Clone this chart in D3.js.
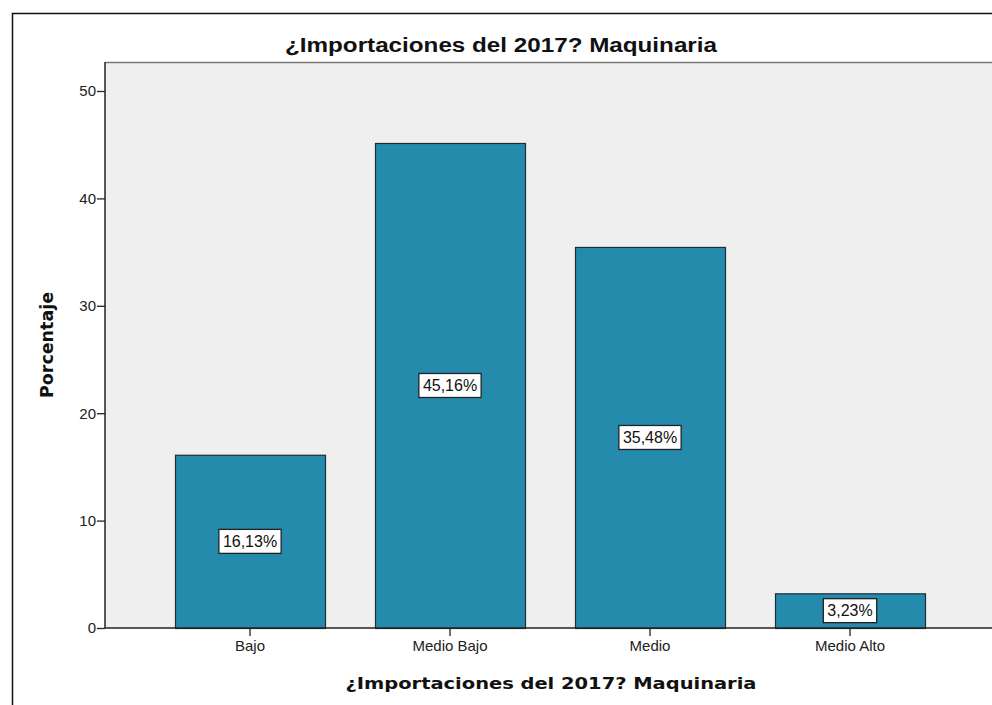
<!DOCTYPE html>
<html><head><meta charset="utf-8">
<script src="https://cdn.jsdelivr.net/npm/d3@7"></script>
<style>body{margin:0;background:#fff;}svg{display:block;}</style>
</head><body>
<svg id="c" width="992" height="705"></svg>
<script>
const categories = ["Bajo", "Medio Bajo", "Medio", "Medio Alto"];
const values = [16.13, 45.16, 35.48, 3.23];
const valueLabels = ["16,13%", "45,16%", "35,48%", "3,23%"];
const yTicks = [0, 10, 20, 30, 40, 50];
const title = "¿Importaciones del 2017? Maquinaria";
const xTitle = "¿Importaciones del 2017? Maquinaria";
const yTitle = "Porcentaje";

const svg = d3.select("#c");
svg.append("rect").attr("x", 12.5).attr("y", 13.5).attr("width", 1000).attr("height", 720)
  .attr("fill", "#fff").attr("stroke", "#111").attr("stroke-width", 1.5);

const pL = 105, pT = 62, pR = 995, pB = 628;
const x = d3.scaleBand().domain(categories).range([pL, pR]).paddingInner(0.25).paddingOuter(0.35);
const y = d3.scaleLinear().domain([0, 52.7]).range([pB, pT]);

svg.append("rect").attr("x", pL).attr("y", pT).attr("width", 992 - pL).attr("height", pB - pT)
  .attr("fill", "#efefef");
svg.append("line").attr("x1", pL).attr("x2", 992).attr("y1", pT + 0.5).attr("y2", pT + 0.5)
  .attr("stroke", "#777").attr("stroke-width", 1.5);

svg.selectAll("rect.bar").data(values).enter().append("rect").attr("class", "bar")
  .attr("x", (d, i) => x(categories[i]) + 0.5)
  .attr("y", d => y(d) + 0.5)
  .attr("width", x.bandwidth())
  .attr("height", d => pB - y(d))
  .attr("fill", "#248bac").attr("stroke", "#1f2d36").attr("stroke-width", 1.2);

const yAxis = svg.append("g").attr("transform", `translate(${pL},0)`)
  .call(d3.axisLeft(y).tickValues(yTicks).tickSize(8).tickPadding(1).tickFormat(d3.format("d")));
yAxis.select(".domain").remove();
yAxis.selectAll("line").attr("stroke", "#222").attr("stroke-width", 1.3);
yAxis.selectAll("text").attr("font-family", "Liberation Sans, Arial, sans-serif").attr("font-size", 15).attr("fill", "#222");
svg.append("line").attr("x1", pL).attr("x2", pL).attr("y1", pT).attr("y2", pB)
  .attr("stroke", "#222").attr("stroke-width", 1.5);

const xAxis = svg.append("g").attr("transform", `translate(0,${pB})`)
  .call(d3.axisBottom(x).tickSize(8).tickPadding(4));
xAxis.select(".domain").remove();
xAxis.selectAll("line").attr("stroke", "#222").attr("stroke-width", 1.3);
xAxis.selectAll("text").attr("font-family", "Liberation Sans, Arial, sans-serif").attr("font-size", 15).attr("fill", "#222");
svg.append("line").attr("x1", pL).attr("x2", 992).attr("y1", pB).attr("y2", pB)
  .attr("stroke", "#222").attr("stroke-width", 1.5);

const lg = svg.selectAll("g.vl").data(values).enter().append("g").attr("class", "vl")
  .attr("transform", (d, i) => `translate(${x(categories[i]) + x.bandwidth() / 2},${(y(d) + pB) / 2})`);
lg.append("text").text((d, i) => valueLabels[i])
  .attr("text-anchor", "middle").attr("dy", "0.36em")
  .attr("font-family", "Liberation Sans, Arial, sans-serif").attr("font-size", 16).attr("fill", "#111");
lg.each(function () {
  const g = d3.select(this);
  const bb = g.select("text").node().getBBox();
  g.insert("rect", "text").attr("x", bb.x - 4).attr("y", -12).attr("width", bb.width + 8).attr("height", 24)
    .attr("fill", "#fff").attr("stroke", "#222").attr("stroke-width", 1.3);
});

svg.append("text").attr("x", 501).attr("y", 52).attr("text-anchor", "middle")
  .attr("font-family", "Liberation Sans, Arial, sans-serif").attr("font-weight", "bold").attr("font-size", 20)
  .attr("fill", "#111").attr("textLength", 432).attr("lengthAdjust", "spacingAndGlyphs").text(title);
svg.append("text").attr("x", 551).attr("y", 689).attr("text-anchor", "middle")
  .attr("font-family", "DejaVu Sans, Verdana, sans-serif").attr("font-weight", "bold").attr("font-size", 16)
  .attr("fill", "#111").attr("textLength", 411).attr("lengthAdjust", "spacingAndGlyphs").text(xTitle);
svg.append("text").attr("transform", "translate(53,345) rotate(-90)").attr("text-anchor", "middle")
  .attr("font-family", "DejaVu Sans, Verdana, sans-serif").attr("font-weight", "bold").attr("font-size", 17)
  .attr("fill", "#111").attr("textLength", 106).attr("lengthAdjust", "spacingAndGlyphs").text(yTitle);
</script>
</body></html>
